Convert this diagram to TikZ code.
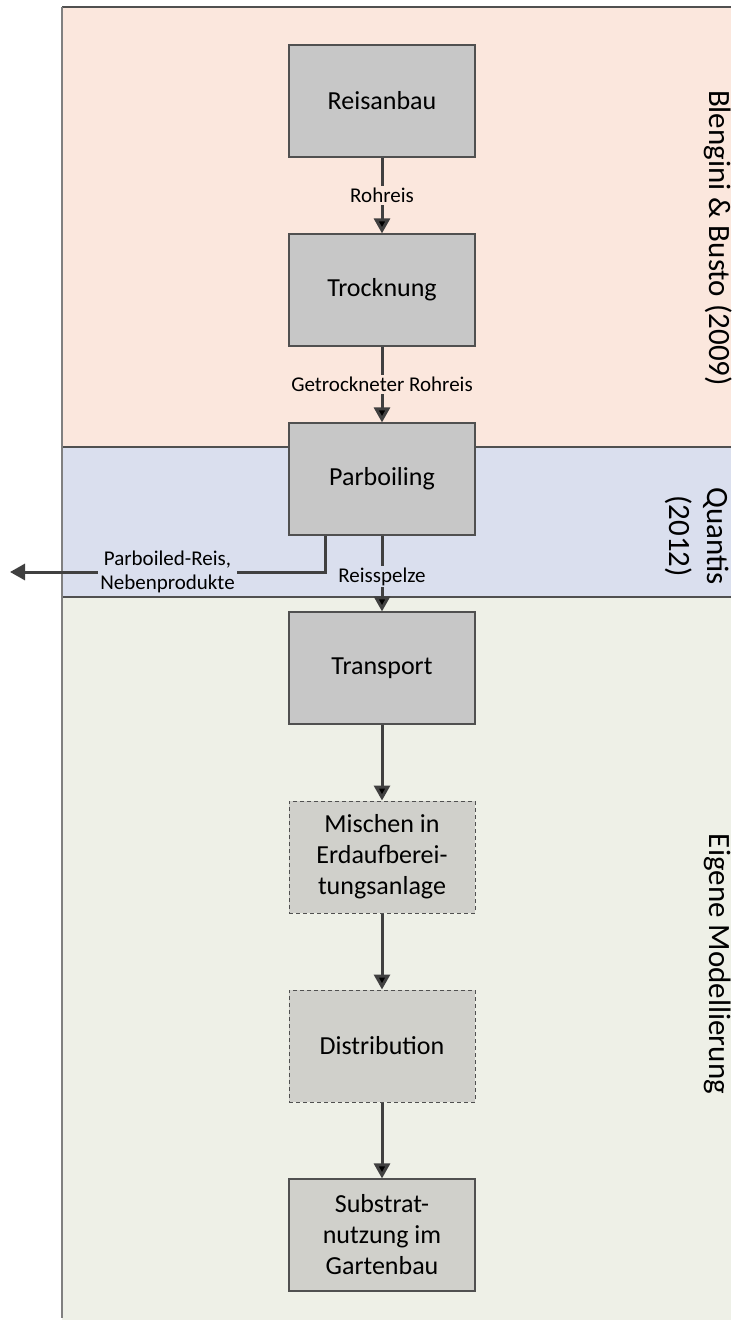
\documentclass[tikz,border=0pt]{standalone}
\usepackage{fontspec}
\setmainfont{Carlito}
\usetikzlibrary{arrows.meta}

\definecolor{peach}{RGB}{251,231,221}
\definecolor{lightblue}{RGB}{218,223,238}
\definecolor{lightgreen}{RGB}{238,240,231}
\definecolor{boxgray}{RGB}{199,199,199}
\definecolor{boxlight}{RGB}{208,208,203}
\definecolor{boxline}{RGB}{80,80,80}
\definecolor{arrowgray}{RGB}{64,64,64}

\begin{document}
\begin{tikzpicture}[x=1pt, y=-1pt, node distance=189pt,
                    main node/.style={rectangle,draw=boxline,fill=boxgray,line width=1.2pt,
                      minimum width=186pt,minimum height=112pt,align=center,
                      font=\fontsize{26}{31}\selectfont},
                    own node/.style={main node,fill=boxlight,line width=1pt,dash pattern=on 4pt off 3pt},
                    flow/.style={draw=arrowgray,line width=3pt,-{Triangle[length=15pt,width=16pt]}},
                    flow label/.style={font=\fontsize{21}{24}\selectfont,inner sep=2pt,align=center},
                    side label/.style={rotate=-90,align=center,font=\fontsize{31}{38}\selectfont}]

  \useasboundingbox (0,0) rectangle (731,1324);

  % bands
  \fill[peach] (62,7) rectangle (731,447);
  \fill[lightblue] (62,447) rectangle (731,597);
  \fill[lightgreen] (62,597) rectangle (731,1320);
  \draw[boxline, line width=1.2pt] (62,7) -- (731,7);
  \draw[boxline, line width=1.2pt] (62,447) -- (731,447);
  \draw[boxline, line width=1.2pt] (62,597) -- (731,597);
  \draw[gray, line width=1.2pt] (62,7) -- (62,1318);

  \node[side label] (blengini) at (718,238) {Blengini \& Busto (2009)};
  \node[side label] (quantis) at (697,536) {Quantis\\(2012)};
  \node[side label] (eigene) at (718,964) {Eigene Modellierung};

  \node[main node] (1) at (382,101) {Reisanbau};
  \node[main node] (2) [below of=1] {Trocknung};
  \node[main node] (3) [below of=2] {Parboiling};
  \node[main node] (4) [below of=3] {Transport};
  \node[own node] (5) [below of=4] {Mischen in\\Erdaufberei-\\tungsanlage};
  \node[own node] (6) [below of=5] {Distribution};
  \node[main node, fill=boxlight] (7) [below of=6] {Substrat-\\nutzung im\\Gartenbau};

  \coordinate (out) at (10,572);

  \path[flow]
    (1) edge node[flow label, fill=peach] {Rohreis} (2)
    (2) edge node[flow label, fill=peach] {Getrockneter Rohreis} (3)
    (3) edge node[flow label, fill=lightblue, yshift=-3pt] {Reisspelze} (4)
    (4) edge (5)
    (5) edge (6)
    (6) edge (7);

  \draw[flow] ([xshift=-57pt]3.south) |- node[flow label, fill=lightblue, pos=0.75] {Parboiled-Reis,\\Nebenprodukte} (out);
\end{tikzpicture}
\end{document}
